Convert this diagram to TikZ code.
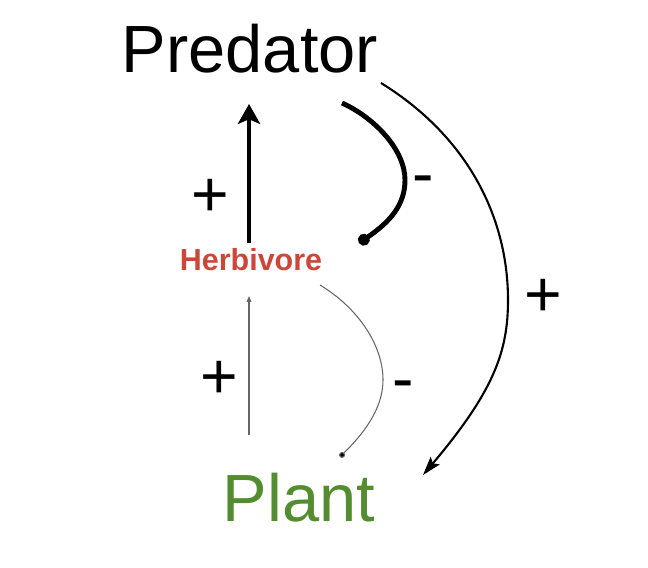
\documentclass[tikz,border=0pt]{standalone}
\usepackage{fontspec}
\setmainfont{Liberation Sans}
\usepackage{tikz}
\usetikzlibrary{arrows.meta}
\definecolor{herbred}{RGB}{204,70,58}
\definecolor{plantgreen}{RGB}{84,140,48}

\begin{document}
\begin{tikzpicture}[x=0.03cm, y=-0.03cm,
    bigtext/.style={inner sep=0pt, anchor=base, font=\fontsize{57}{62}\selectfont},
    sign/.style={inner sep=0pt, anchor=base, font=\fontsize{55}{60}\selectfont}]
            \useasboundingbox (0,0) rectangle (648,568);
            \node[bigtext] (predator) at (250,73) {Predator};
            \node[inner sep=0pt, anchor=base, font=\fontsize{26}{30}\selectfont\bfseries, text=herbred] (herbivore) at (251,270) {Herbivore};
            \node[bigtext, text=plantgreen] (plant) at (299,521) {Plant};
            % end points next to the names
            \coordinate (hb-up) at (249,243);
            \coordinate (pr-down) at (249,104);
            \coordinate (pl-up) at (249,435);
            \coordinate (hb-down) at (249,296);
            \coordinate (pr-curve) at (342,103);
            \coordinate (hb-dot) at (359,243);
            \coordinate (hb-curve) at (320,285);
            \coordinate (pl-dot) at (340,457);
            \coordinate (pr-long) at (381,83);
            \coordinate (pl-long) at (423,475);
            % arrows and curves
            \draw[line width=4.2pt, -{Stealth[length=17pt, width=19pt, inset=4pt]}] (hb-up) -- (pr-down);
            \draw[line width=0.9pt, gray!80!black, -{Triangle[length=5pt, width=4pt]}] (pl-up) -- (hb-down);
            \draw[line width=4.2pt, -{Circle[length=10pt]}] (pr-curve) .. controls (375,118) and (405,150) .. (405,180)
                .. controls (405,205) and (390,222) .. (hb-dot);
            \draw[line width=0.9pt, gray!80!black, -{Circle[length=5pt, fill=black]}] (hb-curve) .. controls (358,308) and (383,345) .. (383,380)
                .. controls (383,410) and (362,435) .. (pl-dot);
            \draw[line width=1.8pt, -{Stealth[length=16pt, width=10pt, inset=3pt]}] (pr-long) .. controls (470,138) and (508,220) .. (508,300)
                .. controls (508,350) and (495,390) .. (pl-long);
            % signs
            \node[sign] (plus-a) at (210,216) {+};
            \node[sign] (minus-a) at (423,196) {-};
            \node[sign] (plus-b) at (219,398) {+};
            \node[sign] (minus-b) at (403,400) {-};
            \node[sign] (plus-c) at (543,316) {+};
        \end{tikzpicture}
\end{document}
